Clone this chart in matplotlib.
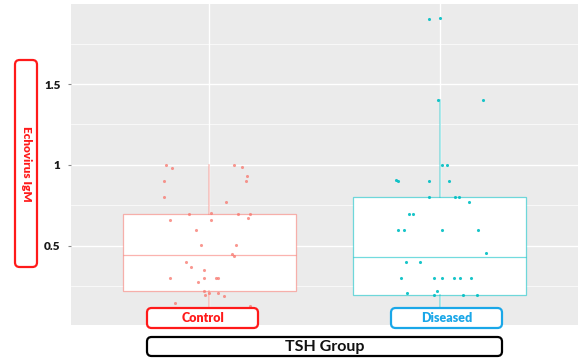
import matplotlib
matplotlib.use("Agg")
import matplotlib.pyplot as plt
from matplotlib.patches import FancyBboxPatch
import numpy as np

plt.rcParams['font.family'] = ['Lato', 'DejaVu Sans']

categories = ["Control", "Diseased"]
colors = ["#F8766D", "#00BFC4"]

# jittered points: (x offset from category centre, value)
control_jitter = [-0.188, -0.163, -0.197, -0.196, -0.172, -0.088, -0.056, 0.006, 0.006,
                  0.108, 0.141, 0.165, 0.161, 0.072, 0.123, 0.178, 0.168, -0.036, 0.115,
                  0.098, 0.108, -0.100, -0.081, -0.024, -0.169, -0.050, -0.024, 0.028,
                  0.039, -0.023, -0.017, -0.001, 0.038, 0.062, -0.148, 0.177]
control_values = [1.00, 0.983, 0.903, 0.80, 0.66, 0.70, 0.60, 0.705, 0.66,
                  1.00, 0.99, 0.93, 0.90, 0.77, 0.70, 0.70, 0.67, 0.504, 0.504,
                  0.45, 0.44, 0.40, 0.37, 0.35, 0.30, 0.28, 0.30, 0.30,
                  0.30, 0.22, 0.20, 0.21, 0.21, 0.19, 0.15, 0.13]
diseased_jitter = [-0.188, -0.182, -0.045, 0.011, 0.033, 0.040, -0.048, 0.068, 0.084,
                   0.127, -0.135, -0.117, -0.180, -0.155, 0.010, 0.165, 0.200, -0.146,
                   -0.085, -0.167, -0.025, 0.011, 0.062, 0.089, 0.137, -0.141, -0.025,
                   -0.013, 0.101, 0.161, -0.046, 0.001, -0.006, 0.189]
diseased_values = [0.907, 0.90, 0.90, 1.00, 1.00, 0.90, 0.80, 0.80, 0.80,
                   0.77, 0.70, 0.70, 0.60, 0.60, 0.60, 0.60, 0.457, 0.40,
                   0.40, 0.30, 0.30, 0.30, 0.30, 0.30, 0.30, 0.21, 0.20,
                   0.22, 0.20, 0.20, 1.90, 1.905, 1.40, 1.40]

# box statistics
box_q1 = [0.22, 0.20]
box_median = [0.445, 0.434]
box_q3 = [0.70, 0.80]
box_whislo = [0.125, 0.125]
box_whishi = [1.00, 1.40]

y_ticks = [0.5, 1.0, 1.5]
y_ticklabels = ["0.5", "1", "1.5"]
y_minor = [0.25, 0.75, 1.25, 1.75]

W, H = 579, 358
fig = plt.figure(figsize=(W / 100, H / 100), dpi=100)
ax = fig.add_axes([71 / W, 1 - 325 / H, (578 - 71) / W, (325 - 4) / H])
ax.set_facecolor("#EBEBEB")
ax.set_xlim(0.4, 2.6)
ax.set_ylim(0.012, 1.994)

for y in y_ticks:
    ax.axhline(y, color="white", lw=1.0, zorder=0)
for y in y_minor:
    ax.axhline(y, color="white", lw=0.5, zorder=0)
for x in [1, 2]:
    ax.axvline(x, color="white", lw=1.0, zorder=0)

stats = []
for i, c in enumerate(categories):
    stats.append(dict(label=c, q1=box_q1[i], med=box_median[i], q3=box_q3[i],
                      whislo=box_whislo[i], whishi=box_whishi[i], fliers=[]))

for i, s in enumerate(stats):
    col = colors[i]
    ec = matplotlib.colors.to_rgba(col, 0.55)
    ax.bxp([s], positions=[i + 1], widths=0.75, patch_artist=True, showcaps=False,
           showfliers=False,
           boxprops=dict(facecolor="white", edgecolor=ec, linewidth=0.9),
           medianprops=dict(color=ec, linewidth=0.9),
           whiskerprops=dict(color=col, linewidth=1.2, alpha=0.4))

xs_c = 1 + np.array(control_jitter)
xs_d = 2 + np.array(diseased_jitter)
ax.scatter(xs_c, control_values, s=5, color=colors[0], alpha=0.75, linewidths=0, zorder=5)
ax.scatter(xs_d, diseased_values, s=5, color=colors[1], alpha=0.9, linewidths=0, zorder=5)

ax.set_yticks(y_ticks)
ax.set_yticklabels(y_ticklabels, fontsize=8.5, fontweight="heavy", color="#1a1a1a")
ax.set_xticks([])
ax.tick_params(axis="y", length=2.5, color="#888888", pad=5)
for sp in ax.spines.values():
    sp.set_visible(False)


def label_box(x0, y0, x1, y1, text, edge, tcolor, fs, weight, rot=0):
    fx0, fy0 = x0 / W, 1 - y1 / H
    fw, fh = (x1 - x0) / W, (y1 - y0) / H
    p = FancyBboxPatch((fx0, fy0), fw, fh, boxstyle="round,pad=0,rounding_size=0.008",
                       transform=fig.transFigure, facecolor="white", edgecolor=edge,
                       linewidth=1.6, zorder=10, mutation_aspect=W / H)
    fig.add_artist(p)
    fig.text(fx0 + fw / 2, fy0 + fh / 2, text, ha="center", va="center", color=tcolor,
             fontsize=fs, fontweight=weight, rotation=rot, zorder=11)


label_box(147, 308, 258, 328, "Control", "#FF1A1A", "#FF1A1A", 9, "heavy")
label_box(391, 308, 502, 328, "Diseased", "#1AA7E8", "#1AA7E8", 9, "heavy")
label_box(147, 337, 502, 356, "TSH Group", "#000000", "#111111", 11.5, "bold")
label_box(15, 60, 37, 267, "Echovirus IgM", "#FF1A1A", "#FF1A1A", 8.5, "heavy", rot=270)

fig.savefig("out.png", dpi=100)
